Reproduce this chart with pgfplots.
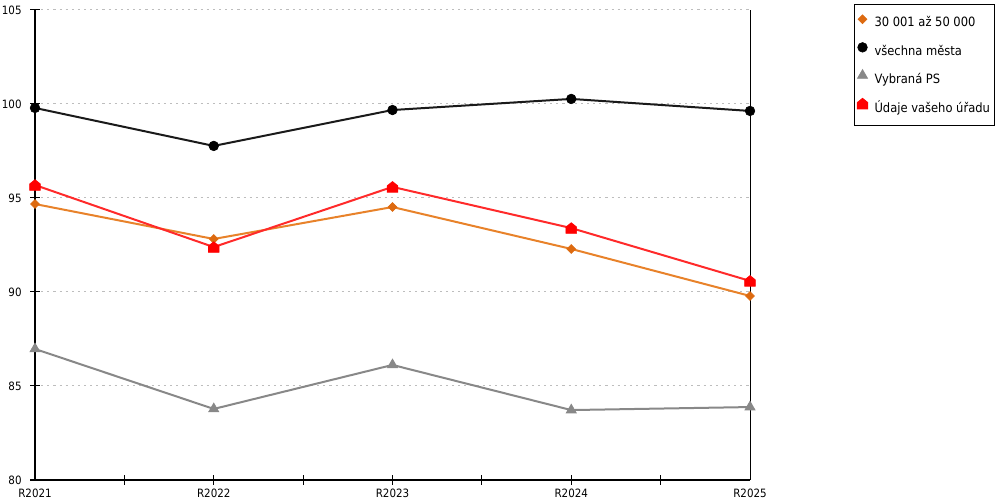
\documentclass[border=0pt]{standalone}
\usepackage{pgfplots}
\pgfplotsset{compat=1.18}
\usepackage{fontspec}
\setmainfont{DejaVu Sans Condensed}
\definecolor{orln}{HTML}{E8822A}
\definecolor{ormk}{HTML}{DD6A10}
\definecolor{bkln}{HTML}{1A1A1A}
\definecolor{gyln}{HTML}{888888}
\definecolor{rdln}{HTML}{FF2A2A}
\definecolor{rdmk}{HTML}{FF0000}
\definecolor{gridc}{HTML}{BDBDBD}
\pgfdeclareplotmark{house}{%
  \pgfpathmoveto{\pgfqpoint{-\pgfplotmarksize}{-\pgfplotmarksize}}%
  \pgfpathlineto{\pgfqpoint{\pgfplotmarksize}{-\pgfplotmarksize}}%
  \pgfpathlineto{\pgfqpoint{\pgfplotmarksize}{0.2\pgfplotmarksize}}%
  \pgfpathlineto{\pgfqpoint{0pt}{\pgfplotmarksize}}%
  \pgfpathlineto{\pgfqpoint{-\pgfplotmarksize}{0.2\pgfplotmarksize}}%
  \pgfpathclose
  \pgfusepathqfillstroke}
\newcommand\ls{\rule[-2pt]{0pt}{7pt}}
\newcommand\lslast{\rule[-8.5pt]{0pt}{7pt}}
\begin{document}
\begin{tikzpicture}
\useasboundingbox (0,0) rectangle (750pt,375pt);
\begin{axis}[
  at={(26.25pt,15pt)}, anchor=south west,
  scale only axis, width=536.25pt, height=352.5pt,
  xmin=0, xmax=4, ymin=80, ymax=105,
  axis x line*=bottom, axis y line*=left,
  xtick={1,2,3}, xticklabels={R2022,R2023,R2024},
  extra x ticks={0,4}, extra x tick labels={R2021,R2025},
  extra x tick style={major tick style={draw=none}},
  minor xtick={0.5,1.5,2.5,3.5},
  ytick={80,85,...,105},
  ymajorgrids,
  grid style={gridc, line width=0.75pt, dash pattern=on 1.6pt off 3pt},
  tick align=center, major tick length=7pt, minor tick length=7pt,
  tick style={black, line width=0.75pt},
  axis line style={black, line width=0.75pt},
  ticklabel style={font=\fontsize{8.6}{10}\selectfont},
  yticklabel style={xshift=-3pt},
  /pgf/number format/assume math mode=true,
  clip=false,
  legend cell align=left,
  legend style={at={(1.1455,1.01277)}, anchor=north west, draw=black, line width=0.75pt,
    inner xsep=3.75pt, inner ysep=8.25pt, row sep=11pt,
    nodes={inner sep=0pt},
    font=\fontsize{9.6}{11}\selectfont},
  legend image code/.code={\path[draw=none,fill=none] (-2.25pt,-1pt) rectangle (9pt,5.5pt); \draw[#1,overlay] plot[only marks] coordinates {(0pt,2.7pt)};},
]
\addplot[orln, line width=1.5pt, mark=square*, mark size=2.35pt, mark options={rotate=45, fill=ormk, draw=ormk, line width=0.5pt}]
  coordinates {(0,94.68)(1,92.82)(2,94.52)(3,92.29)(4,89.79)};
\addlegendentry{30 001 až 50 000\ls}
\addplot[bkln, line width=1.5pt, mark=*, mark size=3.6pt, mark options={fill=black, draw=black, line width=0.5pt}]
  coordinates {(0,99.79)(1,97.77)(2,99.68)(3,100.27)(4,99.63)};
\addlegendentry{všechna města\ls}
\addplot[gyln, line width=1.5pt, mark=triangle*, mark size=4.4pt, mark options={fill=gyln, draw=gyln, line width=0.5pt}]
  coordinates {(0,86.97)(1,83.78)(2,86.12)(3,83.72)(4,83.88)};
\addlegendentry{Vybraná PS\ls}
\addplot[rdln, line width=1.5pt, mark=house, mark size=4pt, mark options={fill=rdmk, draw=rdmk, line width=0.5pt}]
  coordinates {(0,95.69)(1,92.39)(2,95.59)(3,93.40)(4,90.59)};
\addlegendentry{Údaje vašeho úřadu\lslast}
\draw[black, line width=0.75pt] (axis cs:4,80) -- (axis cs:4,105);
\end{axis}
\end{tikzpicture}
\end{document}
